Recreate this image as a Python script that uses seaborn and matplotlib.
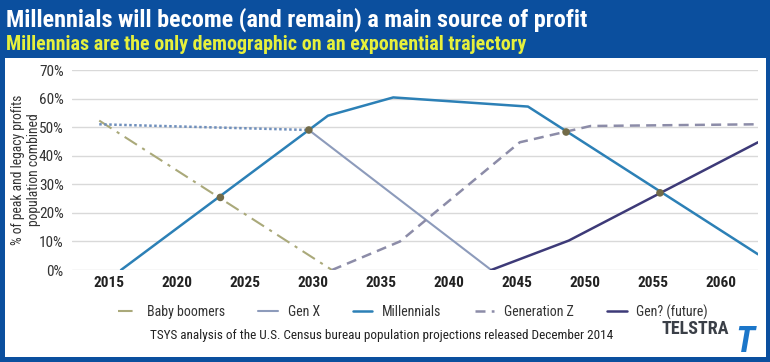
import matplotlib
matplotlib.use("Agg")
import matplotlib.pyplot as plt
from matplotlib.patches import Rectangle
from matplotlib.ticker import FuncFormatter, MultipleLocator
from matplotlib import font_manager
import seaborn as sns

# values (year, % of peak and legacy profits)
boomers_x = [2014.3, 2031.4]
boomers_y = [52.3, 0.0]
genx_est_x = [2014.3, 2029.7]
genx_est_y = [51.0, 49.0]
genx_x = [2029.7, 2043.1]
genx_y = [49.0, 0.0]
millennials_x = [2015.9, 2029.7, 2031.1, 2035.9, 2045.8, 2062.7]
millennials_y = [0.0, 49.0, 54.0, 60.4, 57.2, 5.5]
genz_x = [2031.4, 2036.4, 2045.2, 2050.4, 2062.7]
genz_y = [0.0, 10.0, 44.7, 50.4, 51.0]
future_x = [2043.1, 2048.8, 2062.7]
future_y = [0.0, 10.3, 44.7]
cross_x = [2023.2, 2029.7, 2048.6, 2055.5]
cross_y = [25.4, 49.0, 48.3, 27.0]
year_ticks = list(range(2015, 2061, 5))

# a narrow face if one exists, else plain sans
names = {f.name for f in font_manager.fontManager.ttflist}
narrow = [n for n in ["Liberation Sans Narrow", "Roboto Condensed", "Open Sans Condensed"] if n in names]
FAMILY = narrow + ["DejaVu Sans"]
BLUE_BG = "#0b4f9e"

sns.set_style("white")
plt.rcParams["font.family"] = FAMILY
plt.rcParams["font.stretch"] = "condensed"

fig = plt.figure(figsize=(7.7, 3.62), dpi=100, facecolor=BLUE_BG)
W, H = 770, 362

# white panel inside the blue frame
panel = Rectangle((5 / W, 1 - 357 / H), 761 / W, 299 / H, transform=fig.transFigure,
                  facecolor="white", edgecolor="none", zorder=-5)
fig.add_artist(panel)

fig.text(6 / W, 1 - 20 / H, "Millennials will become (and remain) a main source of profit",
         color="white", fontsize=17.4, fontweight="bold", va="center", ha="left")
fig.text(6 / W, 1 - 44 / H, "Millennias are the only demographic on an exponential trajectory",
         color="#e6f03c", fontsize=14.4, fontweight="bold", va="center", ha="left")

ax = fig.add_axes([72 / W, 1 - 270 / H, 686 / W, 200 / H])
ax.set_zorder(2)
ax.patch.set_alpha(0)

sns.lineplot(x=boomers_x, y=boomers_y, ax=ax, color="#aaa97a", lw=1.5,
             linestyle=(0, (7, 3, 1.5, 3)), label="Baby boomers")
sns.lineplot(x=genx_est_x, y=genx_est_y, ax=ax, color="#6f8fbc", lw=1.8,
             linestyle=(0, (1, 1)))
sns.lineplot(x=genx_x, y=genx_y, ax=ax, color="#8d9bbb", lw=1.5, label="Gen X")
sns.lineplot(x=millennials_x, y=millennials_y, ax=ax, color="#2c80b6", lw=1.8,
             label="Millennials")
sns.lineplot(x=genz_x, y=genz_y, ax=ax, color="#8c8ca8", lw=1.8,
             linestyle=(0, (4, 2.5)), label="Generation Z")
sns.lineplot(x=future_x, y=future_y, ax=ax, color="#3d3a78", lw=1.8,
             label="Gen? (future)")
sns.scatterplot(x=cross_x, y=cross_y, ax=ax, color="#726b48", s=30,
                edgecolor="none", zorder=5)

ax.set_xlim(2012.3, 2062.7)
ax.set_ylim(0, 70)
ax.set_xticks(year_ticks)
ax.yaxis.set_major_locator(MultipleLocator(10))
ax.yaxis.set_major_formatter(FuncFormatter(lambda v, _: f"{v:.0f}%"))
ax.grid(axis="y", color="#d9d9d9", lw=1)
ax.set_axisbelow(True)
for s in ax.spines.values():
    s.set_visible(False)
ax.tick_params(axis="x", length=0, pad=4, labelsize=11, colors="#222222")
ax.tick_params(axis="y", length=0, pad=6, labelsize=11, colors="#333333")
for t in ax.get_xticklabels():
    t.set_fontweight("bold")
ax.set_ylabel("% of peak and legacy profits\npopulation combined", fontsize=9.8,
              color="#333333", linespacing=1.2)
ax.yaxis.set_label_coords(-0.045, 0.5)

leg = ax.legend(loc="center", bbox_to_anchor=(0.497, -0.21), ncol=5,
                frameon=False, fontsize=10, handlelength=1.4, columnspacing=2.4,
                handletextpad=0.7)
for t in leg.get_texts():
    t.set_color("#333333")

fig.text(382 / W, 1 - 335 / H,
         "TSYS analysis of the U.S. Census bureau population projections released December 2014",
         fontsize=9.5, color="#222222", ha="center", va="center")
fig.text(695 / W, 1 - 329 / H, "TELSTRA", fontsize=13, fontweight="bold",
         color="#3a3f47", ha="center", va="center")
fig.text(745 / W, 1 - 342 / H, "T", fontsize=26, fontweight="bold", style="italic",
         color="#1b76c9", ha="center", va="center")

fig.savefig("out.png", dpi=100, facecolor=fig.get_facecolor())
